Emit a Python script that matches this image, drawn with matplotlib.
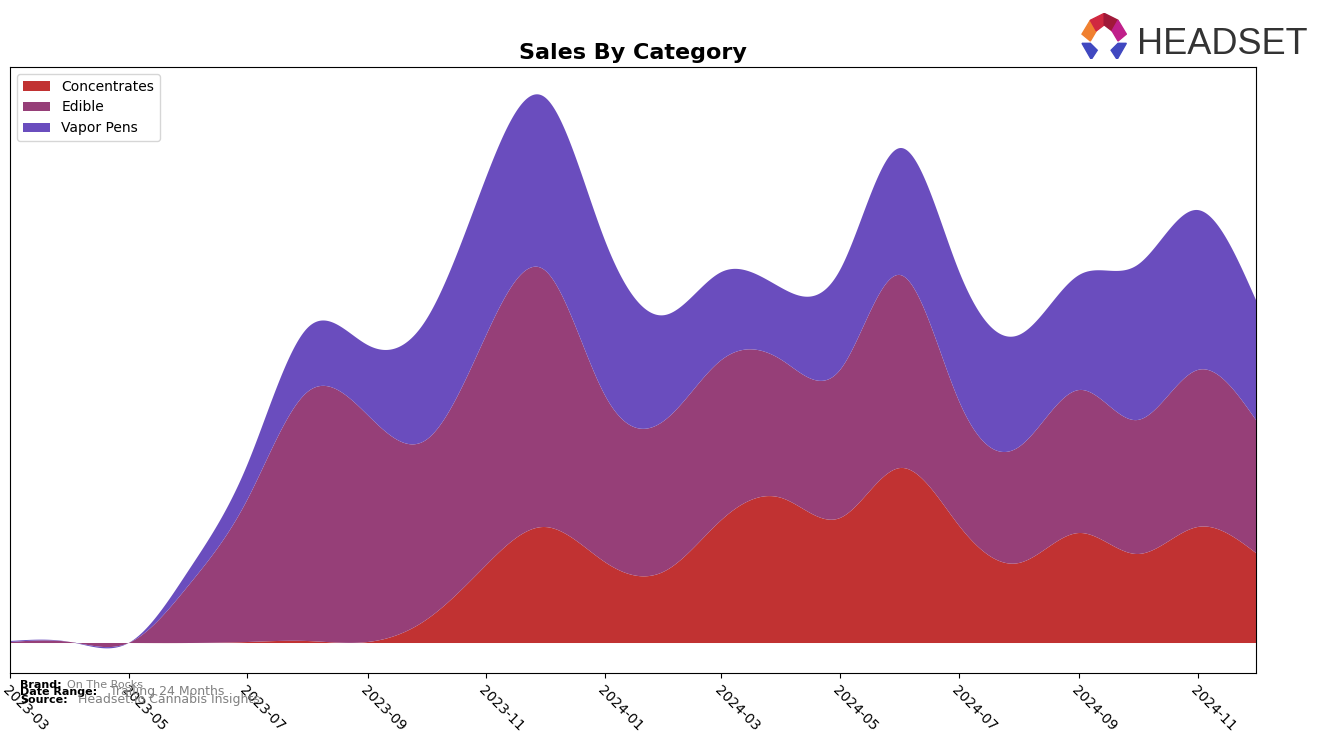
import numpy as np
import pandas as pd
import matplotlib
matplotlib.use('Agg')
import matplotlib.pyplot as plt
from matplotlib.patches import Polygon

# 월별 매출
months = pd.date_range('2023-03-01', '2024-12-01', freq='MS')
concentrates = [0, 0, 0, 0, 1, 2, 1, 23, 78, 116, 81, 72, 123, 145, 125, 175, 118, 80, 110, 89, 116, 90]
edible = [1, 1, 0, 58, 142, 249, 227, 180, 230, 257, 167, 151, 160, 138, 148, 193, 125, 116, 143, 134, 157, 133]
vapor_pens = [1, 0, 0, 15, 35, 64, 70, 120, 158, 173, 155, 105, 88, 72, 100, 127, 130, 112, 115, 155, 160, 120]
labels = ['Concentrates', 'Edible', 'Vapor Pens']
colors = ['#C13232', '#963F78', '#6A4DBE']


def natural_spline(x, y, xs):
    # 자연 3차 스플라인
    x = np.asarray(x, float)
    y = np.asarray(y, float)
    n = len(x)
    h = np.diff(x)
    A = np.zeros((n, n))
    b = np.zeros(n)
    A[0, 0] = 1
    A[-1, -1] = 1
    for i in range(1, n - 1):
        A[i, i - 1] = h[i - 1]
        A[i, i] = 2 * (h[i - 1] + h[i])
        A[i, i + 1] = h[i]
        b[i] = 3 * ((y[i + 1] - y[i]) / h[i] - (y[i] - y[i - 1]) / h[i - 1])
    c = np.linalg.solve(A, b)
    idx = np.clip(np.searchsorted(x, xs) - 1, 0, n - 2)
    dx = xs - x[idx]
    bb = (y[idx + 1] - y[idx]) / h[idx] - h[idx] * (2 * c[idx] + c[idx + 1]) / 3
    d = (c[idx + 1] - c[idx]) / (3 * h[idx])
    return y[idx] + bb * dx + c[idx] * dx ** 2 + d * dx ** 3


xnum = matplotlib.dates.date2num(months)
xs = np.linspace(xnum[0], xnum[-1], 1500)
series = [natural_spline(xnum, s, xs) for s in (concentrates, edible, vapor_pens)]

fig = plt.figure(figsize=(13.2, 7.43), dpi=100)
ax = fig.add_axes([0.0076, 0.0942, 0.9439, 0.8156])
ax.stackplot(matplotlib.dates.num2date(xs), *series, labels=labels, colors=colors)
ax.set_xlim(months[0], months[-1])
ax.set_ylim(-30, 576)
ax.set_yticks([])
tick_months = months[::2]
ax.set_xticks(tick_months)
ax.set_xticklabels([m.strftime('%Y-%m') for m in tick_months], rotation=-45, ha='left',
                   rotation_mode='anchor', fontsize=10)
ax.set_title('Sales By Category', fontsize=16, fontweight='bold')
ax.legend(loc='upper left', fontsize=10)

# 하단 정보
fig.text(0.015, 0.074, 'Brand:', fontsize=8, fontweight='bold')
fig.text(0.051, 0.074, 'On The Rocks', fontsize=8, color='gray')
fig.text(0.015, 0.064, 'Date Range:', fontsize=8, fontweight='bold')
fig.text(0.083, 0.064, 'Trailing 24 Months', fontsize=9, color='gray')
fig.text(0.015, 0.054, 'Source:', fontsize=8, fontweight='bold')
fig.text(0.059, 0.054, 'Headset.io Cannabis Insights', fontsize=9, color='gray')

# 로고
fig.text(0.861, 0.927, 'HEADSET', fontsize=26, color='#333333',
         family=['Liberation Sans', 'DejaVu Sans'])
lax = fig.add_axes([0.819, 0.92, 0.035, 0.062])
lax.set_xlim(0, 1)
lax.set_ylim(0, 1)
lax.axis('off')
pieces = [
    ([(0.02, 0.55), (0.2, 0.85), (0.33, 0.62), (0.2, 0.4)], '#F08030'),
    ([(0.2, 0.85), (0.5, 1.0), (0.5, 0.75), (0.33, 0.62)], '#D02840'),
    ([(0.5, 1.0), (0.8, 0.85), (0.67, 0.62), (0.5, 0.75)], '#A01838'),
    ([(0.8, 0.85), (0.98, 0.55), (0.8, 0.4), (0.67, 0.62)], '#C0208A'),
    ([(0.02, 0.35), (0.2, 0.35), (0.35, 0.2), (0.22, 0.0)], '#4048C0'),
    ([(0.65, 0.2), (0.8, 0.35), (0.98, 0.35), (0.78, 0.0)], '#4048C0'),
]
for pts, c in pieces:
    lax.add_patch(Polygon(pts, closed=True, color=c))

fig.savefig('out.png', dpi=100)
